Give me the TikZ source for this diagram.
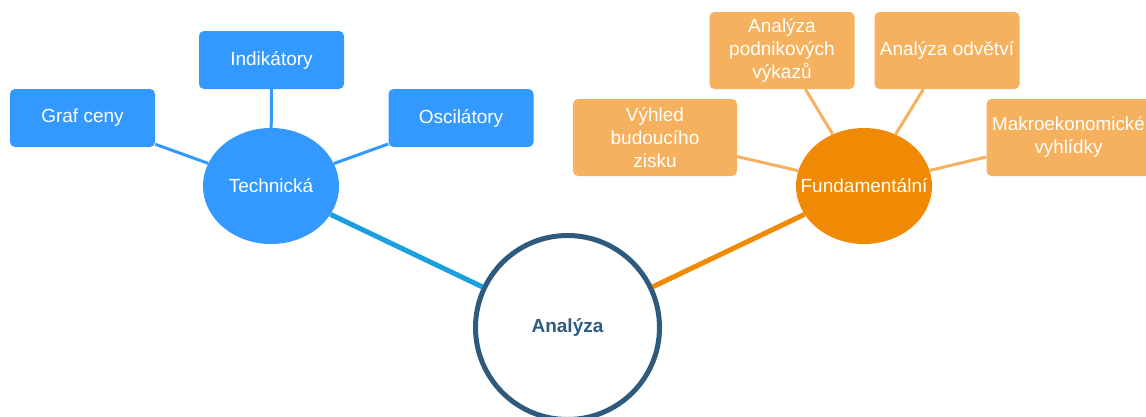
\documentclass[tikz,border=0pt]{standalone}
\usepackage{fontspec}
\setmainfont{Liberation Sans}
\usetikzlibrary{shapes.geometric}

\definecolor{techblue}{RGB}{51,153,255}
\definecolor{linkblue}{RGB}{27,160,222}
\definecolor{hubblue}{RGB}{46,90,126}
\definecolor{fundorange}{RGB}{240,138,4}
\definecolor{leaforange}{RGB}{245,177,94}

\tikzset{
  txt/.style={font=\fontsize{19}{23}\selectfont, text=white, align=center, inner sep=0pt},
  leaf/.style={rectangle, rounded corners=5pt, inner sep=0pt, minimum width=145pt,
               txt, draw=none},
  techleaf/.style={leaf, fill=techblue, minimum height=58pt},
  fundleaf/.style={leaf, fill=leaforange, minimum height=77pt},
  branch/.style={ellipse, inner sep=0pt, minimum width=136pt, minimum height=116pt, draw=none},
  hub/.style={circle, inner sep=0pt, minimum size=184pt, draw=hubblue, line width=5pt,
              fill=white, text=hubblue, font=\fontsize{19}{23}\selectfont\bfseries},
  thin/.style={line width=3pt},
  thick/.style={line width=5pt}
}

\begin{document}
\begin{tikzpicture}[x=1pt, y=-1pt]
  \clip (0,0) rectangle (1146,416);

  % central topic
  \node[hub] (hub) at (567.5,327.5) {Analýza};

  % technical branch
  \node[branch, fill=techblue] (tech) at (271,186) {};
  \node[txt] at (tech) {Technická};
  \node[techleaf] (graf) at (82.5,118) {Graf ceny};
  \node[techleaf] (indik) at (271.5,60) {Indikátory};
  \node[techleaf] (oscil) at (461,118) {Oscilátory};

  % fundamental branch
  \node[branch, fill=fundorange] (fund) at (864,186) {};
  \node[txt] at (fund) {Fundamentální};
  \node[fundleaf, minimum width=164pt] (vyhled) at (655,137.5) {Výhled\\budoucího\\zisku};
  \node[fundleaf] (vykazy) at (782,50.5) {Analýza\\podnikových\\výkazů};
  \node[fundleaf] (odvetvi) at (947,50.5) {Analýza odvětví};
  \node[fundleaf, minimum width=164pt, font=\fontsize{18.8}{23}\selectfont] (makro)
    at (1068.5,137.5) {Makroekonomické\\vyhlídky};

  % connectors
  \draw[thick, linkblue] (tech) -- (hub);
  \draw[thick, fundorange] (fund) -- (hub);
  \foreach \n in {graf, indik, oscil}
    \draw[thin, techblue] (\n) -- (tech);
  \foreach \n in {vyhled, vykazy, odvetvi, makro}
    \draw[thin, leaforange] (\n) -- (fund);
\end{tikzpicture}
\end{document}
